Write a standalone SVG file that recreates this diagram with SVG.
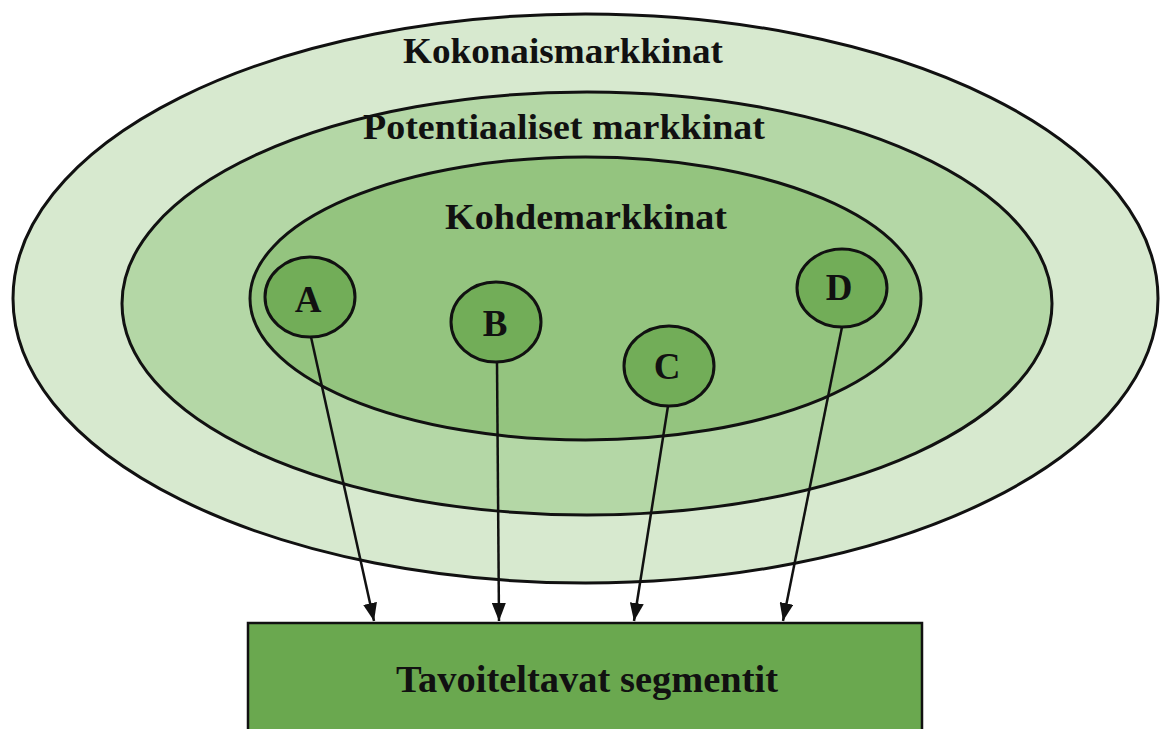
<svg xmlns="http://www.w3.org/2000/svg" width="1163" height="729" viewBox="0 0 1163 729">
  <style>
    .ring { stroke: #111; stroke-width: 3; }
    .seg { fill: #72ad58; stroke: #111; stroke-width: 3; }
    .label { font-family: "Liberation Serif", "Times New Roman", serif; font-weight: bold; fill: #111; text-anchor: middle; }
    .title { font-size: 35px; }
    .letter { font-size: 37px; }
    .link { stroke: #111; stroke-width: 2.5; fill: none; marker-end: url(#arrow); }
  </style>
  <defs>
    <!-- filled triangular head, tip at the line end -->
    <marker id="arrow" viewBox="0 0 18 14" refX="18" refY="7" markerWidth="18" markerHeight="14" markerUnits="userSpaceOnUse" orient="auto">
      <path d="M0,0 L18,7 L0,14 Z" fill="#111"/>
    </marker>
  </defs>
  <rect width="1163" height="729" fill="#ffffff"/>

  <g id="total-market">
    <ellipse class="ring" cx="585.5" cy="298.5" rx="572.5" ry="284.5" fill="#d7e9cf"/>
    <text class="label title" x="563" y="63" textLength="320" lengthAdjust="spacingAndGlyphs">Kokonaismarkkinat</text>
  </g>

  <g id="potential-market">
    <ellipse class="ring" cx="587" cy="303.5" rx="465" ry="211.5" fill="#b4d7a6"/>
    <text class="label title" x="564" y="139" textLength="402" lengthAdjust="spacingAndGlyphs">Potentiaaliset markkinat</text>
  </g>

  <g id="target-market">
    <ellipse class="ring" cx="585.5" cy="298.5" rx="335.5" ry="141.5" fill="#94c47f"/>
    <text class="label title" x="586" y="229" textLength="282" lengthAdjust="spacingAndGlyphs">Kohdemarkkinat</text>
  </g>

  <g id="segment-a">
    <ellipse class="seg" cx="310" cy="297" rx="45" ry="40"/>
    <text class="label letter" x="308" y="312">A</text>
  </g>
  <g id="segment-b">
    <ellipse class="seg" cx="496" cy="322" rx="45" ry="40"/>
    <text class="label letter" x="495" y="336">B</text>
  </g>
  <g id="segment-c">
    <ellipse class="seg" cx="669" cy="366" rx="45" ry="40"/>
    <text class="label letter" x="667" y="379">C</text>
  </g>
  <g id="segment-d">
    <ellipse class="seg" cx="842" cy="288" rx="45" ry="39"/>
    <text class="label letter" x="839" y="300">D</text>
  </g>

  <g id="connectors">
    <line class="link" x1="311" y1="337" x2="374" y2="621"/>
    <line class="link" x1="497" y1="362" x2="499" y2="621"/>
    <line class="link" x1="668" y1="406" x2="634" y2="621"/>
    <line class="link" x1="842" y1="327" x2="783" y2="621"/>
  </g>

  <g id="targeted-segments">
    <rect x="248" y="623" width="674" height="120" fill="#6aa84f" stroke="#111" stroke-width="2.5"/>
    <text class="label" style="font-size:37px" x="587" y="692" textLength="382" lengthAdjust="spacingAndGlyphs">Tavoiteltavat segmentit</text>
  </g>
</svg>
